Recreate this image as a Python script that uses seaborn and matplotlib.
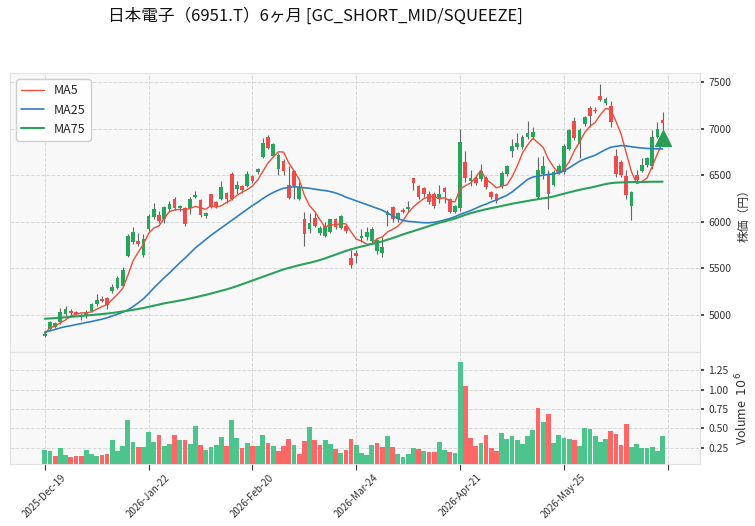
import numpy as np
import pandas as pd
import matplotlib
matplotlib.use("Agg")
import matplotlib.pyplot as plt
import seaborn as sns

# ---- data ----
opens = [4780, 4850, 4870, 4925, 5010, 5040, 5030, 4975, 4990, 5040,
         5120, 5170, 5180, 5255, 5290, 5310, 5630, 5780, 5790, 5640,
         5920, 6050, 6070, 6030, 6135, 6250, 6145, 6145, 6150, 6270,
         6230, 6065, 6295, 6215, 6250, 6310, 6510, 6355, 6380, 6380,
         6490, 6530, 6700, 6905, 6710, 6570, 6650, 6400, 6540, 6240,
         6030, 5920, 6040, 5880, 5850, 5890, 6035, 5930, 5960, 5610,
         5670, 5825, 5835, 5790, 5685, 5670, 6070, 6155, 6035, 6125,
         6140, 6465, 6380, 6360, 6295, 6295, 6250, 6360, 6250, 6110,
         6150, 6645, 6440, 6475, 6460, 6470, 6315, 6295, 6380, 6510,
         6755, 6800, 6800, 6905, 6910, 6265, 6510, 6510, 6390, 6530,
         6530, 6785, 7085, 6840, 7045, 7225, 7200, 7350, 7280, 7245,
         6710, 6640, 6490, 6165, 6505, 6550, 6610, 6595, 6915, 7095]
highs = [4830, 4935, 4930, 5070, 5100, 5060, 5040, 5020, 5050, 5125,
         5230, 5200, 5190, 5330, 5420, 5510, 5870, 5940, 5880, 5870,
         6080, 6200, 6120, 6170, 6220, 6270, 6185, 6160, 6270, 6330,
         6240, 6110, 6300, 6220, 6440, 6320, 6530, 6440, 6400, 6540,
         6500, 6580, 6900, 6930, 6850, 6740, 6670, 6600, 6560, 6430,
         6110, 6100, 6090, 5950, 6000, 6030, 6040, 6070, 5980, 5700,
         5700, 5920, 5940, 5940, 5820, 5840, 6130, 6170, 6110, 6150,
         6220, 6470, 6400, 6370, 6330, 6320, 6400, 6370, 6260, 6180,
         7000, 6760, 6560, 6490, 6620, 6490, 6330, 6310, 6540, 6610,
         6890, 6950, 6930, 7080, 7020, 6700, 6710, 6560, 6560, 6620,
         6830, 7000, 7120, 7010, 7140, 7240, 7230, 7480, 7340, 7300,
         6780, 6660, 6560, 6330, 6560, 6690, 6700, 6990, 7070, 7180]
lows = [4760, 4840, 4860, 4900, 4990, 5000, 4995, 4950, 4970, 5030,
        5100, 5135, 5060, 5240, 5280, 5300, 5620, 5760, 5740, 5620,
        5900, 6030, 5990, 5990, 6110, 6130, 6120, 5960, 6080, 6260,
        6050, 6040, 6150, 6150, 6230, 6200, 6230, 6300, 6310, 6370,
        6420, 6510, 6690, 6780, 6700, 6500, 6500, 6240, 6250, 6230,
        5740, 5880, 5940, 5860, 5840, 5880, 5920, 5920, 5880, 5500,
        5560, 5780, 5810, 5770, 5660, 5620, 5950, 6000, 6000, 6090,
        6110, 6340, 6250, 6270, 6190, 6150, 6200, 6200, 6090, 6100,
        6120, 6430, 6380, 6400, 6440, 6350, 6250, 6200, 6360, 6490,
        6700, 6780, 6780, 6890, 6890, 6240, 6460, 6140, 6380, 6510,
        6510, 6770, 6880, 6680, 7030, 7020, 7170, 7300, 7250, 7020,
        6480, 6480, 6240, 6020, 6420, 6530, 6590, 6570, 6900, 6980]
closes = [4800, 4925, 4915, 5030, 5060, 5020, 5010, 4995, 5030, 5115,
          5160, 5150, 5105, 5300, 5395, 5480, 5845, 5890, 5760, 5820,
          6060, 6135, 6010, 6155, 6190, 6145, 6165, 5980, 6245, 6290,
          6070, 6090, 6160, 6175, 6370, 6240, 6250, 6390, 6340, 6510,
          6435, 6570, 6845, 6795, 6830, 6720, 6550, 6260, 6380, 6370,
          5865, 5985, 5960, 5930, 5960, 6025, 5940, 6060, 5900, 5535,
          5630, 5845, 5890, 5920, 5810, 5725, 6110, 6030, 6090, 6105,
          6155, 6420, 6270, 6295, 6210, 6165, 6300, 6325, 6110, 6165,
          6860, 6475, 6470, 6420, 6540, 6370, 6270, 6220, 6520, 6595,
          6810, 6850, 6915, 6955, 6960, 6560, 6595, 6295, 6530, 6600,
          6810, 6980, 6895, 6990, 7120, 7140, 7185, 7310, 7320, 7075,
          6510, 6500, 6285, 6315, 6445, 6615, 6690, 6905, 7000, 7065]
volumes = [0.22, 0.21, 0.14, 0.25, 0.16, 0.13, 0.14, 0.14, 0.22, 0.17,
           0.14, 0.16, 0.17, 0.35, 0.21, 0.27, 0.61, 0.32, 0.26, 0.26,
           0.45, 0.32, 0.41, 0.27, 0.30, 0.41, 0.35, 0.35, 0.30, 0.53,
           0.29, 0.22, 0.26, 0.29, 0.39, 0.27, 0.61, 0.37, 0.25, 0.31,
           0.27, 0.27, 0.41, 0.31, 0.27, 0.21, 0.27, 0.36, 0.29, 0.17,
           0.34, 0.52, 0.35, 0.29, 0.35, 0.30, 0.23, 0.18, 0.22, 0.36,
           0.29, 0.18, 0.15, 0.28, 0.31, 0.26, 0.40, 0.26, 0.17, 0.13,
           0.17, 0.24, 0.23, 0.21, 0.20, 0.20, 0.32, 0.22, 0.20, 0.18,
           1.35, 1.045, 0.38, 0.27, 0.31, 0.41, 0.24, 0.21, 0.44, 0.36,
           0.40, 0.35, 0.30, 0.40, 0.48, 0.76, 0.58, 0.68, 0.31, 0.41,
           0.37, 0.36, 0.35, 0.27, 0.50, 0.49, 0.40, 0.32, 0.36, 0.46,
           0.43, 0.29, 0.555, 0.26, 0.30, 0.25, 0.24, 0.26, 0.21, 0.40]
ma25 = [4815, 4830, 4845, 4862, 4875, 4885, 4897, 4908, 4920, 4930,
        4943, 4955, 4970, 4990, 5008, 5030, 5055, 5090, 5130, 5175,
        5230, 5290, 5345, 5400, 5450, 5505, 5560, 5610, 5665, 5720,
        5765, 5810, 5855, 5895, 5935, 5975, 6015, 6055, 6095, 6135,
        6175, 6210, 6250, 6285, 6315, 6340, 6360, 6370, 6375, 6372,
        6365, 6360, 6350, 6342, 6335, 6325, 6310, 6290, 6265, 6245,
        6225, 6205, 6185, 6165, 6145, 6125, 6095, 6065, 6035, 6015,
        6005, 6000, 5995, 5990, 5990, 5995, 6005, 6020, 6035, 6055,
        6080, 6100, 6120, 6145, 6170, 6190, 6215, 6235, 6260, 6285,
        6320, 6365, 6410, 6455, 6480, 6492, 6500, 6508, 6515, 6525,
        6545, 6580, 6615, 6650, 6675, 6695, 6715, 6745, 6775, 6800,
        6810, 6818, 6815, 6805, 6798, 6792, 6787, 6785, 6783, 6782]
ma75 = [4960, 4963, 4967, 4971, 4975, 4980, 4985, 4990, 4995, 5000,
        5005, 5010, 5016, 5022, 5030, 5038, 5046, 5055, 5065, 5075,
        5088, 5100, 5112, 5125, 5135, 5145, 5155, 5165, 5178, 5190,
        5203, 5216, 5230, 5245, 5260, 5275, 5292, 5310, 5330, 5350,
        5370, 5390, 5410, 5430, 5450, 5470, 5490, 5505, 5520, 5535,
        5548, 5560, 5575, 5590, 5608, 5628, 5648, 5668, 5688, 5705,
        5720, 5735, 5748, 5762, 5776, 5790, 5808, 5826, 5845, 5865,
        5883, 5900, 5918, 5936, 5955, 5972, 5990, 6005, 6020, 6035,
        6055, 6075, 6092, 6108, 6122, 6135, 6147, 6158, 6170, 6182,
        6194, 6204, 6214, 6224, 6234, 6243, 6252, 6260, 6272, 6287,
        6302, 6316, 6330, 6343, 6355, 6366, 6378, 6392, 6405, 6415,
        6420, 6423, 6425, 6426, 6427, 6428, 6429, 6430, 6430, 6431]
tick_labels = ["2025-Dec-19", "2026-Jan-22", "2026-Feb-20", "2026-Mar-24",
               "2026-Apr-21", "2026-May-25", ""]
signal_index = 119
signal_price = 6900
title = "日本電子（6951.T）6ヶ月 [GC_SHORT_MID/SQUEEZE]"

# ---- frame ----
df = pd.DataFrame({"open": opens, "high": highs, "low": lows,
                   "close": closes, "volume": volumes,
                   "MA25": ma25, "MA75": ma75})
df["idx"] = np.arange(len(df))
df["MA5"] = df["close"].rolling(5, min_periods=1).mean()
df["up"] = df["close"] >= df["open"]
df["vup"] = df["close"].diff().fillna(1) >= 0

UP, DOWN = "#26a65b", "#ef4b4b"
VUP, VDOWN = "#4cc48b", "#ff6666"

sns.set_theme(style="whitegrid")
plt.rcParams["font.family"] = ["Noto Sans CJK JP", "DejaVu Sans"]

fig = plt.figure(figsize=(7.55, 5.26), dpi=100)
L, W = 10 / 755, 690 / 755
ax = fig.add_axes([L, 1 - 352 / 526, W, 279 / 526])
axv = fig.add_axes([L, 1 - 464 / 526, W, 112 / 526], sharex=ax)

for a in (ax, axv):
    a.set_facecolor("#f8f8f8")
    a.grid(True, linestyle="--", color="#d6d6d6", linewidth=0.7)
    for s in a.spines.values():
        s.set_color("#e2e2e2")
        s.set_linewidth(0.8)

# candles
ax.vlines(df["idx"], df["low"], df["high"], color="#666666", linewidth=0.8, zorder=2)
body_bottom = np.minimum(df["open"], df["close"])
body_h = np.maximum(np.abs(df["close"] - df["open"]), 8)
ax.bar(df["idx"], body_h, bottom=body_bottom, width=0.72,
       color=np.where(df["up"], UP, DOWN), linewidth=0, zorder=3)

# moving averages
sns.lineplot(data=df, x="idx", y="MA5", ax=ax, color="#e8503a", linewidth=1.0, label="MA5", zorder=4)
sns.lineplot(data=df, x="idx", y="MA25", ax=ax, color="#2f7fc1", linewidth=1.2, label="MA25", zorder=4)
sns.lineplot(data=df, x="idx", y="MA75", ax=ax, color="#2aa15a", linewidth=1.5, label="MA75", zorder=4)

ax.scatter([signal_index], [signal_price], marker="^", s=130, color="#2a9d56", zorder=5)

leg = ax.legend(loc="upper left", fontsize=9, frameon=True, framealpha=0.95,
                edgecolor="#cccccc", fancybox=True, borderpad=0.4, handlelength=1.8)
leg.get_frame().set_facecolor("white")

ax.set_xlim(-6.7, 126.2)
ax.set_ylim(4603, 7597)
ax.set_yticks([5000, 5500, 6000, 6500, 7000, 7500])
ax.yaxis.tick_right()
ax.yaxis.set_label_position("right")
ax.set_ylabel("株価（円）", fontsize=8.5, color="#333333")
ax.set_xlabel("")
ax.tick_params(axis="y", labelsize=7.5, colors="#333333", length=3, pad=3)
ax.tick_params(axis="x", labelbottom=False, length=0)

# volume
axv.bar(df["idx"], df["volume"], width=0.92,
        color=np.where(df["vup"], VUP, VDOWN), linewidth=0, zorder=3)
axv.set_ylim(0.039, 1.485)
axv.set_yticks([0.25, 0.50, 0.75, 1.00, 1.25])
axv.set_yticklabels(["0.25", "0.50", "0.75", "1.00", "1.25"])
axv.yaxis.tick_right()
axv.yaxis.set_label_position("right")
axv.set_ylabel("Volume  $10^6$", fontsize=9, color="#333333")
axv.tick_params(axis="y", labelsize=7.5, colors="#333333", length=3, pad=3)
axv.set_xticks(range(0, 121, 20))
axv.set_xticklabels(tick_labels, rotation=45, fontsize=7, color="#333333")
axv.tick_params(axis="x", length=4, width=0.8, color="#333333", bottom=True, pad=2)

fig.text(108 / 755, 1 - 16 / 526, title, fontsize=12, ha="left", va="center", color="#111111")

fig.savefig("out.png", dpi=100)
